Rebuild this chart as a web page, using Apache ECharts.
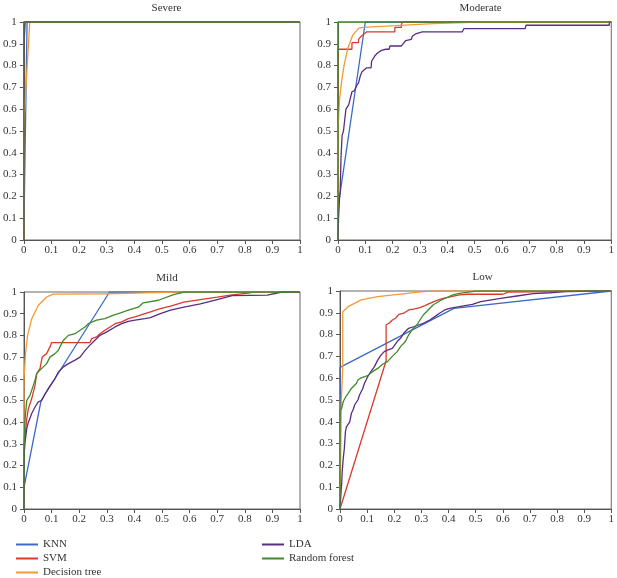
<!DOCTYPE html>
<html><head><meta charset="utf-8">
<script src="https://cdn.jsdelivr.net/npm/echarts@6/dist/echarts.min.js"></script>
<style>html,body{margin:0;padding:0;background:#fff}#c{width:617px;height:578px}</style>
</head><body><div id="c"></div>
<script>
// Panel titles and legend names
var panelTitles = ['Severe', 'Moderate', 'Mild', 'Low'];
var modelNames = ['KNN', 'SVM', 'Decision tree', 'LDA', 'Random forest'];
var tickValues = [0, 0.1, 0.2, 0.3, 0.4, 0.5, 0.6, 0.7, 0.8, 0.9, 1];

// ---- Severe (FPR, TPR) ----
var severeKNN = [[0,0],[0.012,1],[1,1]];
var severeSVM = [[0,0],[0,1],[1,1]];
var severeDT  = [[0,0],[0,0.5],[0.004,0.62],[0.022,1],[1,1]];
var severeLDA = [[0,0],[0,0.87],[0.005,0.87],[0.005,1],[1,1]];
var severeRF  = [[0,0],[0,1],[1,1]];

// ---- Moderate ----
var moderateKNN = [[0,0],[0,0.15],[0.1,1],[1,1]];
var moderateSVM = [[0,0],[0,0.79],[0,0.875],[0.051,0.875],[0.051,0.905],[0.075,0.905],[0.075,0.92],[0.085,0.935],[0.095,0.945],[0.105,0.955],[0.208,0.955],[0.208,0.975],[0.232,0.975],[0.232,0.99],[0.236,1],[1,1]];
var moderateDT  = [[0,0],[0,0.51],[0.006,0.65],[0.013,0.725],[0.022,0.8],[0.036,0.88],[0.054,0.94],[0.076,0.972],[0.09,0.975],[0.209,0.983],[0.35,0.993],[0.487,0.998],[0.52,1],[1,1]];
var moderateLDA = [[0,0],[0.002,0.1],[0.006,0.2],[0.008,0.22],[0.011,0.38],[0.015,0.48],[0.02,0.5],[0.029,0.6],[0.039,0.62],[0.045,0.65],[0.051,0.68],[0.06,0.685],[0.069,0.71],[0.075,0.72],[0.081,0.75],[0.087,0.77],[0.095,0.78],[0.105,0.79],[0.121,0.79],[0.123,0.82],[0.135,0.845],[0.147,0.86],[0.159,0.87],[0.175,0.875],[0.187,0.875],[0.19,0.89],[0.232,0.89],[0.238,0.9],[0.248,0.915],[0.268,0.92],[0.272,0.935],[0.284,0.945],[0.308,0.955],[0.455,0.955],[0.461,0.97],[0.685,0.97],[0.688,0.985],[0.993,0.985],[0.993,1],[1,1]];
var moderateRF  = [[0,0],[0,1],[1,1]];

// ---- Mild ----
var mildKNN = [[0,0],[0,0.1],[0.062,0.5],[0.31,1],[1,1]];
var mildSVM = [[0,0],[0,0.3],[0.004,0.34],[0.01,0.417],[0.016,0.463],[0.028,0.509],[0.04,0.57],[0.046,0.624],[0.058,0.647],[0.066,0.7],[0.082,0.716],[0.094,0.747],[0.1,0.767],[0.239,0.767],[0.245,0.785],[0.263,0.793],[0.275,0.808],[0.293,0.824],[0.312,0.839],[0.33,0.854],[0.354,0.862],[0.378,0.877],[0.402,0.885],[0.438,0.9],[0.458,0.908],[0.494,0.923],[0.531,0.935],[0.579,0.953],[0.639,0.965],[0.7,0.976],[0.754,0.987],[0.82,0.996],[0.83,1],[1,1]];
var mildDT  = [[0,0],[0,0.6],[0.006,0.724],[0.013,0.8],[0.028,0.877],[0.052,0.939],[0.082,0.977],[0.106,0.99],[0.3,0.992],[0.4,0.995],[0.55,1],[1,1]];
var mildLDA = [[0,0],[0.001,0.26],[0.004,0.31],[0.01,0.37],[0.016,0.4],[0.028,0.44],[0.04,0.47],[0.052,0.494],[0.064,0.5],[0.076,0.53],[0.088,0.555],[0.1,0.578],[0.112,0.6],[0.124,0.63],[0.143,0.655],[0.161,0.67],[0.185,0.686],[0.203,0.7],[0.221,0.73],[0.239,0.755],[0.257,0.778],[0.275,0.8],[0.3,0.816],[0.33,0.839],[0.354,0.854],[0.378,0.865],[0.402,0.87],[0.438,0.877],[0.458,0.882],[0.494,0.9],[0.531,0.916],[0.579,0.93],[0.639,0.945],[0.7,0.965],[0.754,0.983],[0.881,0.986],[0.887,0.995],[0.935,1],[1,1]];
var mildRF  = [[0,0],[0,0.3],[0.004,0.417],[0.01,0.5],[0.022,0.525],[0.028,0.548],[0.04,0.594],[0.046,0.624],[0.058,0.64],[0.07,0.655],[0.082,0.67],[0.094,0.7],[0.112,0.716],[0.124,0.73],[0.136,0.762],[0.143,0.778],[0.161,0.8],[0.185,0.808],[0.203,0.824],[0.221,0.839],[0.233,0.854],[0.263,0.87],[0.293,0.877],[0.324,0.893],[0.342,0.9],[0.378,0.916],[0.414,0.93],[0.432,0.95],[0.487,0.962],[0.542,0.988],[0.58,1],[1,1]];

// ---- Low ----
var lowKNN = [[0,0],[0,0.65],[0.42,0.92],[1,1]];
var lowSVM = [[0,0],[0.17,0.68],[0.17,0.845],[0.181,0.852],[0.193,0.867],[0.205,0.875],[0.217,0.893],[0.235,0.898],[0.253,0.913],[0.271,0.917],[0.295,0.924],[0.313,0.933],[0.331,0.943],[0.355,0.956],[0.38,0.966],[0.41,0.974],[0.44,0.982],[0.47,0.985],[0.6,0.985],[0.62,0.995],[0.78,0.997],[0.8,1],[1,1]];
var lowDT  = [[0,0],[0.005,0.5],[0.01,0.65],[0.01,0.905],[0.03,0.928],[0.078,0.959],[0.139,0.974],[0.223,0.986],[0.307,0.997],[0.343,1],[1,1]];
var lowLDA = [[0,0],[0.005,0.1],[0.006,0.11],[0.008,0.17],[0.012,0.232],[0.016,0.278],[0.02,0.355],[0.024,0.378],[0.036,0.4],[0.042,0.439],[0.048,0.454],[0.054,0.477],[0.066,0.5],[0.072,0.523],[0.084,0.553],[0.09,0.576],[0.102,0.607],[0.114,0.63],[0.127,0.653],[0.139,0.683],[0.151,0.706],[0.163,0.722],[0.175,0.729],[0.193,0.737],[0.211,0.768],[0.223,0.783],[0.235,0.806],[0.253,0.829],[0.271,0.836],[0.289,0.844],[0.307,0.852],[0.331,0.867],[0.355,0.887],[0.367,0.898],[0.386,0.913],[0.404,0.92],[0.44,0.928],[0.488,0.939],[0.519,0.951],[0.592,0.966],[0.652,0.977],[0.712,0.988],[0.773,0.992],[0.833,0.997],[0.954,1],[1,1]];
var lowRF  = [[0,0],[0,0.45],[0.006,0.462],[0.012,0.492],[0.018,0.508],[0.03,0.53],[0.042,0.553],[0.06,0.576],[0.066,0.592],[0.078,0.602],[0.102,0.612],[0.12,0.63],[0.139,0.645],[0.157,0.664],[0.175,0.676],[0.193,0.7],[0.211,0.722],[0.223,0.745],[0.241,0.768],[0.253,0.798],[0.265,0.821],[0.283,0.844],[0.295,0.867],[0.307,0.89],[0.325,0.913],[0.343,0.936],[0.367,0.954],[0.392,0.969],[0.416,0.982],[0.44,0.989],[0.488,0.997],[0.5,1],[1,1]];

var panelData = [
  [severeKNN, severeSVM, severeDT, severeLDA, severeRF],
  [moderateKNN, moderateSVM, moderateDT, moderateLDA, moderateRF],
  [mildKNN, mildSVM, mildDT, mildLDA, mildRF],
  [lowKNN, lowSVM, lowDT, lowLDA, lowRF]
];

var colors = ['#3a6cc6', '#d83a2c', '#f39a36', '#5b2c80', '#3f8b2c'];
var font = 'Liberation Serif';
var axisCol = '#555';
var grids = [
  {left: 23, top: 22, width: 277, height: 218},
  {left: 338, top: 22, width: 275, height: 218},
  {left: 24, top: 292, width: 276, height: 217},
  {left: 340, top: 291, width: 275, height: 218}
];
// legend slot for each model: [left, top]
var legendSlots = [[16, 539], [16, 553], [16, 567], [262, 539], [262, 553]];

var chart = echarts.init(document.getElementById('c'), null, {renderer: 'canvas'});
var option = {
  animation: false,
  backgroundColor: '#fff',
  color: colors,
  title: [], grid: [], xAxis: [], yAxis: [], series: [], legend: []
};
modelNames.forEach(function (n, k) {
  option.legend.push({data: [n], left: legendSlots[k][0], top: legendSlots[k][1], itemWidth: 22, itemHeight: 2, icon: 'rect',
    padding: 0, textStyle: {fontFamily: font, fontSize: 11, color: '#333'}});
});
grids.forEach(function (g, i) {
  option.grid.push({left: g.left, top: g.top, width: g.width, height: g.height, show: true, borderColor: '#666', borderWidth: 1});
  option.title.push({text: panelTitles[i], left: g.left + g.width / 2, top: g.top - 24, textAlign: 'center',
    textStyle: {fontFamily: font, fontSize: 11, fontWeight: 'normal', color: '#333'}});
  var axisCommon = {
    type: 'value', gridIndex: i, min: tickValues[0], max: tickValues[tickValues.length - 1], interval: 0.1,
    axisLine: {show: true, onZero: false, lineStyle: {color: axisCol, width: 1}},
    axisTick: {show: true, length: 4, lineStyle: {color: axisCol}},
    splitLine: {show: false},
    axisLabel: {fontFamily: font, fontSize: 11, color: '#333'}
  };
  var xa = JSON.parse(JSON.stringify(axisCommon)); xa.axisLabel.margin = 5;
  var ya = JSON.parse(JSON.stringify(axisCommon)); ya.axisLabel.margin = 7;
  option.xAxis.push(xa);
  option.yAxis.push(ya);
  panelData[i].forEach(function (d, k) {
    option.series.push({name: modelNames[k], type: 'line', xAxisIndex: i, yAxisIndex: i, data: d,
      showSymbol: false, symbol: 'none', lineStyle: {width: 1.3, color: colors[k]}, itemStyle: {color: colors[k]}, z: 2 + k});
  });
});
chart.setOption(option);
</script></body></html>
